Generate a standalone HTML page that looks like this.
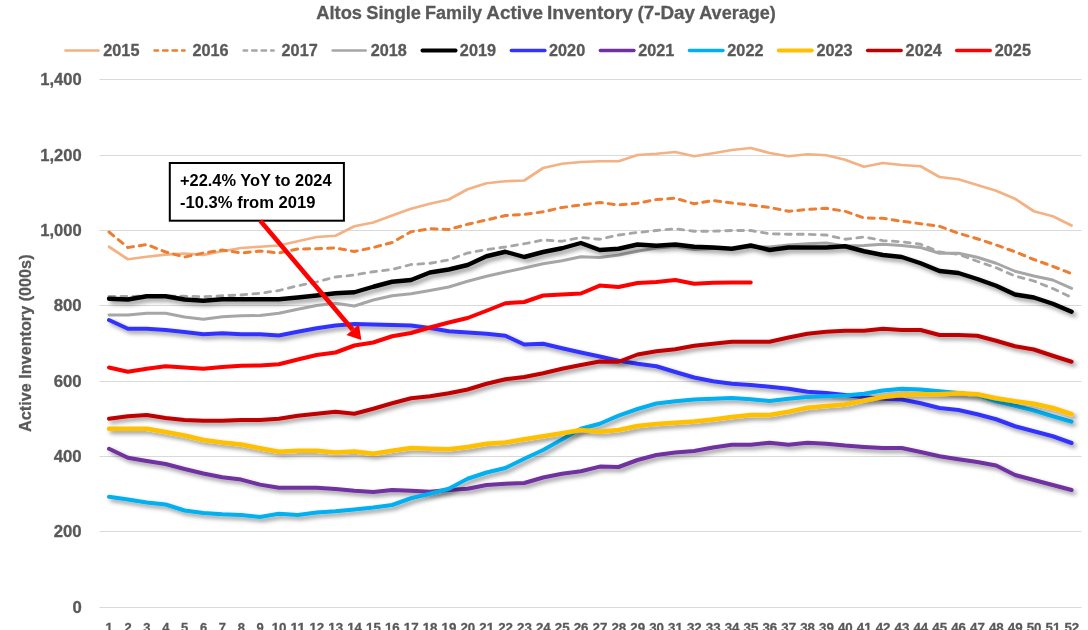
<!DOCTYPE html>
<html><head><meta charset="utf-8"><title>Altos Single Family Active Inventory</title>
<style>html,body{margin:0;padding:0;background:#fff}body{width:1088px;height:630px;overflow:hidden}</style></head>
<body>
<svg width="1088" height="630" viewBox="0 0 1088 630" style="display:block" font-family="'Liberation Sans', Arial, sans-serif" font-weight="bold">
<defs><filter id="sh" x="-5%" y="-30%" width="110%" height="160%"><feDropShadow dx="2.8" dy="2.8" stdDeviation="1.9" flood-color="#000" flood-opacity="0.42"/></filter><filter id="sh2" x="-5%" y="-30%" width="110%" height="180%"><feDropShadow dx="3" dy="3.2" stdDeviation="2.3" flood-color="#000" flood-opacity="0.4"/></filter></defs>
<rect width="1088" height="630" fill="#fff"/>
<g stroke="#595959" stroke-width="0.3" stroke-linejoin="round">
<rect x="99.5" y="79" width="982.0" height="1" fill="#D9D9D9" stroke="none"/>
<rect x="99.5" y="155" width="982.0" height="1" fill="#D9D9D9" stroke="none"/>
<rect x="99.5" y="230" width="982.0" height="1" fill="#D9D9D9" stroke="none"/>
<rect x="99.5" y="305" width="982.0" height="1" fill="#D9D9D9" stroke="none"/>
<rect x="99.5" y="381" width="982.0" height="1" fill="#D9D9D9" stroke="none"/>
<rect x="99.5" y="456" width="982.0" height="1" fill="#D9D9D9" stroke="none"/>
<rect x="99.5" y="531" width="982.0" height="1" fill="#D9D9D9" stroke="none"/>
<rect x="99.5" y="607" width="982.0" height="1" fill="#D9D9D9" stroke="none"/>
<text x="81.7" y="85.4" text-anchor="end" font-size="16.4" fill="#595959" textLength="41.5" lengthAdjust="spacingAndGlyphs">1,400</text>
<text x="81.7" y="161.4" text-anchor="end" font-size="16.4" fill="#595959" textLength="41.5" lengthAdjust="spacingAndGlyphs">1,200</text>
<text x="81.7" y="236.4" text-anchor="end" font-size="16.4" fill="#595959" textLength="41.5" lengthAdjust="spacingAndGlyphs">1,000</text>
<text x="81.7" y="311.4" text-anchor="end" font-size="16.4" fill="#595959" textLength="28" lengthAdjust="spacingAndGlyphs">800</text>
<text x="81.7" y="387.4" text-anchor="end" font-size="16.4" fill="#595959" textLength="28" lengthAdjust="spacingAndGlyphs">600</text>
<text x="81.7" y="462.4" text-anchor="end" font-size="16.4" fill="#595959" textLength="28" lengthAdjust="spacingAndGlyphs">400</text>
<text x="81.7" y="537.4" text-anchor="end" font-size="16.4" fill="#595959" textLength="28" lengthAdjust="spacingAndGlyphs">200</text>
<text x="81.7" y="613.4" text-anchor="end" font-size="16.4" fill="#595959" textLength="9.3" lengthAdjust="spacingAndGlyphs">0</text>
<text x="109.20" y="631.5" text-anchor="middle" font-size="13.4" fill="#595959" textLength="7.2" lengthAdjust="spacingAndGlyphs">1</text>
<text x="128.07" y="631.5" text-anchor="middle" font-size="13.4" fill="#595959" textLength="7.2" lengthAdjust="spacingAndGlyphs">2</text>
<text x="146.95" y="631.5" text-anchor="middle" font-size="13.4" fill="#595959" textLength="7.2" lengthAdjust="spacingAndGlyphs">3</text>
<text x="165.82" y="631.5" text-anchor="middle" font-size="13.4" fill="#595959" textLength="7.2" lengthAdjust="spacingAndGlyphs">4</text>
<text x="184.70" y="631.5" text-anchor="middle" font-size="13.4" fill="#595959" textLength="7.2" lengthAdjust="spacingAndGlyphs">5</text>
<text x="203.57" y="631.5" text-anchor="middle" font-size="13.4" fill="#595959" textLength="7.2" lengthAdjust="spacingAndGlyphs">6</text>
<text x="222.45" y="631.5" text-anchor="middle" font-size="13.4" fill="#595959" textLength="7.2" lengthAdjust="spacingAndGlyphs">7</text>
<text x="241.32" y="631.5" text-anchor="middle" font-size="13.4" fill="#595959" textLength="7.2" lengthAdjust="spacingAndGlyphs">8</text>
<text x="260.20" y="631.5" text-anchor="middle" font-size="13.4" fill="#595959" textLength="7.2" lengthAdjust="spacingAndGlyphs">9</text>
<text x="279.07" y="631.5" text-anchor="middle" font-size="13.4" fill="#595959" textLength="14.8" lengthAdjust="spacingAndGlyphs">10</text>
<text x="297.95" y="631.5" text-anchor="middle" font-size="13.4" fill="#595959" textLength="14.8" lengthAdjust="spacingAndGlyphs">11</text>
<text x="316.82" y="631.5" text-anchor="middle" font-size="13.4" fill="#595959" textLength="14.8" lengthAdjust="spacingAndGlyphs">12</text>
<text x="335.70" y="631.5" text-anchor="middle" font-size="13.4" fill="#595959" textLength="14.8" lengthAdjust="spacingAndGlyphs">13</text>
<text x="354.57" y="631.5" text-anchor="middle" font-size="13.4" fill="#595959" textLength="14.8" lengthAdjust="spacingAndGlyphs">14</text>
<text x="373.45" y="631.5" text-anchor="middle" font-size="13.4" fill="#595959" textLength="14.8" lengthAdjust="spacingAndGlyphs">15</text>
<text x="392.32" y="631.5" text-anchor="middle" font-size="13.4" fill="#595959" textLength="14.8" lengthAdjust="spacingAndGlyphs">16</text>
<text x="411.20" y="631.5" text-anchor="middle" font-size="13.4" fill="#595959" textLength="14.8" lengthAdjust="spacingAndGlyphs">17</text>
<text x="430.07" y="631.5" text-anchor="middle" font-size="13.4" fill="#595959" textLength="14.8" lengthAdjust="spacingAndGlyphs">18</text>
<text x="448.95" y="631.5" text-anchor="middle" font-size="13.4" fill="#595959" textLength="14.8" lengthAdjust="spacingAndGlyphs">19</text>
<text x="467.82" y="631.5" text-anchor="middle" font-size="13.4" fill="#595959" textLength="14.8" lengthAdjust="spacingAndGlyphs">20</text>
<text x="486.70" y="631.5" text-anchor="middle" font-size="13.4" fill="#595959" textLength="14.8" lengthAdjust="spacingAndGlyphs">21</text>
<text x="505.57" y="631.5" text-anchor="middle" font-size="13.4" fill="#595959" textLength="14.8" lengthAdjust="spacingAndGlyphs">22</text>
<text x="524.45" y="631.5" text-anchor="middle" font-size="13.4" fill="#595959" textLength="14.8" lengthAdjust="spacingAndGlyphs">23</text>
<text x="543.33" y="631.5" text-anchor="middle" font-size="13.4" fill="#595959" textLength="14.8" lengthAdjust="spacingAndGlyphs">24</text>
<text x="562.20" y="631.5" text-anchor="middle" font-size="13.4" fill="#595959" textLength="14.8" lengthAdjust="spacingAndGlyphs">25</text>
<text x="581.08" y="631.5" text-anchor="middle" font-size="13.4" fill="#595959" textLength="14.8" lengthAdjust="spacingAndGlyphs">26</text>
<text x="599.95" y="631.5" text-anchor="middle" font-size="13.4" fill="#595959" textLength="14.8" lengthAdjust="spacingAndGlyphs">27</text>
<text x="618.83" y="631.5" text-anchor="middle" font-size="13.4" fill="#595959" textLength="14.8" lengthAdjust="spacingAndGlyphs">28</text>
<text x="637.70" y="631.5" text-anchor="middle" font-size="13.4" fill="#595959" textLength="14.8" lengthAdjust="spacingAndGlyphs">29</text>
<text x="656.58" y="631.5" text-anchor="middle" font-size="13.4" fill="#595959" textLength="14.8" lengthAdjust="spacingAndGlyphs">30</text>
<text x="675.45" y="631.5" text-anchor="middle" font-size="13.4" fill="#595959" textLength="14.8" lengthAdjust="spacingAndGlyphs">31</text>
<text x="694.33" y="631.5" text-anchor="middle" font-size="13.4" fill="#595959" textLength="14.8" lengthAdjust="spacingAndGlyphs">32</text>
<text x="713.20" y="631.5" text-anchor="middle" font-size="13.4" fill="#595959" textLength="14.8" lengthAdjust="spacingAndGlyphs">33</text>
<text x="732.08" y="631.5" text-anchor="middle" font-size="13.4" fill="#595959" textLength="14.8" lengthAdjust="spacingAndGlyphs">34</text>
<text x="750.95" y="631.5" text-anchor="middle" font-size="13.4" fill="#595959" textLength="14.8" lengthAdjust="spacingAndGlyphs">35</text>
<text x="769.83" y="631.5" text-anchor="middle" font-size="13.4" fill="#595959" textLength="14.8" lengthAdjust="spacingAndGlyphs">36</text>
<text x="788.70" y="631.5" text-anchor="middle" font-size="13.4" fill="#595959" textLength="14.8" lengthAdjust="spacingAndGlyphs">37</text>
<text x="807.58" y="631.5" text-anchor="middle" font-size="13.4" fill="#595959" textLength="14.8" lengthAdjust="spacingAndGlyphs">38</text>
<text x="826.45" y="631.5" text-anchor="middle" font-size="13.4" fill="#595959" textLength="14.8" lengthAdjust="spacingAndGlyphs">39</text>
<text x="845.33" y="631.5" text-anchor="middle" font-size="13.4" fill="#595959" textLength="14.8" lengthAdjust="spacingAndGlyphs">40</text>
<text x="864.20" y="631.5" text-anchor="middle" font-size="13.4" fill="#595959" textLength="14.8" lengthAdjust="spacingAndGlyphs">41</text>
<text x="883.08" y="631.5" text-anchor="middle" font-size="13.4" fill="#595959" textLength="14.8" lengthAdjust="spacingAndGlyphs">42</text>
<text x="901.95" y="631.5" text-anchor="middle" font-size="13.4" fill="#595959" textLength="14.8" lengthAdjust="spacingAndGlyphs">43</text>
<text x="920.83" y="631.5" text-anchor="middle" font-size="13.4" fill="#595959" textLength="14.8" lengthAdjust="spacingAndGlyphs">44</text>
<text x="939.70" y="631.5" text-anchor="middle" font-size="13.4" fill="#595959" textLength="14.8" lengthAdjust="spacingAndGlyphs">45</text>
<text x="958.58" y="631.5" text-anchor="middle" font-size="13.4" fill="#595959" textLength="14.8" lengthAdjust="spacingAndGlyphs">46</text>
<text x="977.45" y="631.5" text-anchor="middle" font-size="13.4" fill="#595959" textLength="14.8" lengthAdjust="spacingAndGlyphs">47</text>
<text x="996.33" y="631.5" text-anchor="middle" font-size="13.4" fill="#595959" textLength="14.8" lengthAdjust="spacingAndGlyphs">48</text>
<text x="1015.20" y="631.5" text-anchor="middle" font-size="13.4" fill="#595959" textLength="14.8" lengthAdjust="spacingAndGlyphs">49</text>
<text x="1034.08" y="631.5" text-anchor="middle" font-size="13.4" fill="#595959" textLength="14.8" lengthAdjust="spacingAndGlyphs">50</text>
<text x="1052.95" y="631.5" text-anchor="middle" font-size="13.4" fill="#595959" textLength="14.8" lengthAdjust="spacingAndGlyphs">51</text>
<text x="1071.83" y="631.5" text-anchor="middle" font-size="13.4" fill="#595959" textLength="14.8" lengthAdjust="spacingAndGlyphs">52</text>
<text transform="translate(31.1,343.2) rotate(-90)" text-anchor="middle" font-size="16.4" fill="#595959" textLength="177.5" lengthAdjust="spacingAndGlyphs">Active Inventory (000s)</text>
<text y="18.75" font-size="18.8" fill="#595959">
<tspan x="316.25" textLength="45.75" lengthAdjust="spacingAndGlyphs">Altos</tspan>
<tspan x="366.25" textLength="54.75" lengthAdjust="spacingAndGlyphs">Single</tspan>
<tspan x="425" textLength="57" lengthAdjust="spacingAndGlyphs">Family</tspan>
<tspan x="486.25" textLength="56.75" lengthAdjust="spacingAndGlyphs">Active</tspan>
<tspan x="547" textLength="86" lengthAdjust="spacingAndGlyphs">Inventory</tspan>
<tspan x="637.5" textLength="57.5" lengthAdjust="spacingAndGlyphs">(7-Day</tspan>
<tspan x="699.25" textLength="76.5" lengthAdjust="spacingAndGlyphs">Average)</tspan>
</text>
<path d="M65.45 50.5H98.55" stroke="#F4B183" stroke-width="2.4" stroke-linecap="round" fill="none"/>
<text x="103.25" y="55.9" font-size="16.4" fill="#595959" textLength="36.2" lengthAdjust="spacingAndGlyphs">2015</text>
<path d="M154.62 50.5h3.4M163.12 50.5h4.4M172.62 50.5h4.4M182.12 50.5h2.4" stroke="#ED7D31" stroke-width="2.6" stroke-linecap="round" fill="none"/>
<text x="192.40" y="55.9" font-size="16.4" fill="#595959" textLength="36.2" lengthAdjust="spacingAndGlyphs">2016</text>
<path d="M243.69 50.5h3.4M252.19 50.5h4.4M261.69 50.5h4.4M271.19 50.5h2.4" stroke="#A6A6A6" stroke-width="2.6" stroke-linecap="round" fill="none"/>
<text x="281.55" y="55.9" font-size="16.4" fill="#595959" textLength="36.2" lengthAdjust="spacingAndGlyphs">2017</text>
<path d="M332.66 50.5H365.76" stroke="#A6A6A6" stroke-width="2.4" stroke-linecap="round" fill="none"/>
<text x="370.70" y="55.9" font-size="16.4" fill="#595959" textLength="36.2" lengthAdjust="spacingAndGlyphs">2018</text>
<path d="M422.43 50.5H455.63" stroke="#000000" stroke-width="3.8" stroke-linecap="round" fill="none"/>
<text x="459.85" y="55.9" font-size="16.4" fill="#595959" textLength="36.2" lengthAdjust="spacingAndGlyphs">2019</text>
<path d="M511.25 50.5H544.95" stroke="#3333FF" stroke-width="3.3" stroke-linecap="round" fill="none"/>
<text x="549.00" y="55.9" font-size="16.4" fill="#595959" textLength="36.2" lengthAdjust="spacingAndGlyphs">2020</text>
<path d="M600.32 50.5H634.02" stroke="#7030A0" stroke-width="3.3" stroke-linecap="round" fill="none"/>
<text x="638.15" y="55.9" font-size="16.4" fill="#595959" textLength="36.2" lengthAdjust="spacingAndGlyphs">2021</text>
<path d="M689.39 50.5H723.09" stroke="#00B0F0" stroke-width="3.3" stroke-linecap="round" fill="none"/>
<text x="727.30" y="55.9" font-size="16.4" fill="#595959" textLength="36.2" lengthAdjust="spacingAndGlyphs">2022</text>
<path d="M778.71 50.5H811.91" stroke="#FFC000" stroke-width="3.8" stroke-linecap="round" fill="none"/>
<text x="816.45" y="55.9" font-size="16.4" fill="#595959" textLength="36.2" lengthAdjust="spacingAndGlyphs">2023</text>
<path d="M867.53 50.5H901.23" stroke="#C00000" stroke-width="3.3" stroke-linecap="round" fill="none"/>
<text x="905.60" y="55.9" font-size="16.4" fill="#595959" textLength="36.2" lengthAdjust="spacingAndGlyphs">2024</text>
<path d="M956.60 50.5H990.30" stroke="#FF0000" stroke-width="3.3" stroke-linecap="round" fill="none"/>
<text x="994.75" y="55.9" font-size="16.4" fill="#595959" textLength="36.2" lengthAdjust="spacingAndGlyphs">2025</text>
</g>
<polyline points="109.00,246.75 127.88,259.25 146.75,256.75 165.62,254.60 184.50,253.50 203.38,254.80 222.25,251.25 241.12,248.00 260.00,246.75 278.88,245.50 297.75,241.25 316.62,237.00 335.50,235.75 354.38,226.25 373.25,222.50 392.12,215.50 411.00,208.75 429.88,203.75 448.75,199.50 467.62,189.25 486.50,183.25 505.38,181.25 524.25,180.50 543.12,168.00 562.00,163.75 580.88,162.00 599.75,161.25 618.62,161.25 637.50,155.00 656.38,153.75 675.25,152.00 694.12,156.25 713.00,153.25 731.88,150.00 750.75,148.00 769.62,153.00 788.50,156.25 807.38,154.25 826.25,155.25 845.12,159.75 864.00,166.75 882.88,163.00 901.75,165.00 920.62,166.25 939.50,177.00 958.38,179.25 977.25,185.00 996.12,190.75 1015.00,198.75 1033.88,211.25 1052.75,216.25 1071.62,225.50" fill="none" stroke="#F4B183" stroke-width="2.7" stroke-linejoin="round" stroke-linecap="round"/>
<polyline points="109.00,232.00 127.88,247.50 146.75,244.50 165.62,252.00 184.50,257.00 203.38,253.00 222.25,250.00 241.12,253.00 260.00,251.00 278.88,253.00 297.75,249.00 316.62,248.70 335.50,248.00 354.38,251.50 373.25,247.50 392.12,242.50 411.00,231.75 429.88,228.75 448.75,229.50 467.62,224.25 486.50,220.00 505.38,215.50 524.25,214.50 543.12,211.75 562.00,207.50 580.88,205.00 599.75,202.50 618.62,205.00 637.50,203.25 656.38,199.50 675.25,198.25 694.12,203.75 713.00,200.50 731.88,203.00 750.75,205.00 769.62,207.50 788.50,211.25 807.38,209.50 826.25,208.25 845.12,211.25 864.00,218.00 882.88,218.25 901.75,221.25 920.62,223.75 939.50,226.25 958.38,233.25 977.25,238.75 996.12,245.00 1015.00,251.75 1033.88,259.50 1052.75,266.25 1071.62,273.75" fill="none" stroke="#ED7D31" stroke-width="3.0" stroke-linejoin="round" stroke-dasharray="6 6" stroke-linecap="round"/>
<polyline points="109.00,296.50 127.88,296.50 146.75,296.00 165.62,296.00 184.50,296.25 203.38,296.75 222.25,295.75 241.12,295.00 260.00,293.25 278.88,290.50 297.75,285.75 316.62,282.00 335.50,277.00 354.38,275.00 373.25,271.75 392.12,269.50 411.00,264.50 429.88,263.25 448.75,260.00 467.62,253.00 486.50,249.50 505.38,247.00 524.25,243.75 543.12,240.00 562.00,241.25 580.88,237.50 599.75,239.25 618.62,235.00 637.50,232.50 656.38,230.50 675.25,228.75 694.12,231.25 713.00,231.25 731.88,230.50 750.75,230.50 769.62,233.75 788.50,234.25 807.38,234.25 826.25,235.00 845.12,239.25 864.00,237.00 882.88,240.60 901.75,241.75 920.62,244.25 939.50,252.00 958.38,254.25 977.25,261.25 996.12,267.75 1015.00,276.00 1033.88,281.00 1052.75,288.50 1071.62,297.50" fill="none" stroke="#A6A6A6" stroke-width="2.8" stroke-linejoin="round" stroke-dasharray="5.8 6.2" stroke-linecap="round"/>
<polyline points="109.00,315.00 127.88,315.00 146.75,313.25 165.62,313.25 184.50,317.00 203.38,319.25 222.25,316.75 241.12,315.75 260.00,315.50 278.88,313.25 297.75,309.25 316.62,305.50 335.50,303.25 354.38,306.00 373.25,300.00 392.12,295.75 411.00,293.75 429.88,290.50 448.75,287.00 467.62,281.25 486.50,276.25 505.38,272.00 524.25,268.00 543.12,263.75 562.00,260.75 580.88,256.75 599.75,257.50 618.62,255.00 637.50,251.25 656.38,248.00 675.25,246.50 694.12,249.50 713.00,248.50 731.88,248.50 750.75,247.00 769.62,247.00 788.50,245.00 807.38,243.75 826.25,243.00 845.12,246.00 864.00,245.50 882.88,244.25 901.75,245.50 920.62,247.50 939.50,253.25 958.38,253.25 977.25,257.25 996.12,263.25 1015.00,271.25 1033.88,276.00 1052.75,280.00 1071.62,288.30" fill="none" stroke="#A6A6A6" stroke-width="2.9" stroke-linejoin="round" stroke-linecap="round"/>
<polyline points="109.00,298.75 127.88,299.50 146.75,296.25 165.62,296.25 184.50,299.50 203.38,300.75 222.25,299.25 241.12,299.25 260.00,299.25 278.88,299.25 297.75,297.50 316.62,295.50 335.50,293.25 354.38,292.25 373.25,286.75 392.12,281.75 411.00,280.00 429.88,272.50 448.75,269.50 467.62,265.00 486.50,256.25 505.38,251.75 524.25,257.00 543.12,252.00 562.00,248.25 580.88,243.00 599.75,250.00 618.62,248.75 637.50,244.50 656.38,245.75 675.25,244.50 694.12,246.75 713.00,247.50 731.88,248.75 750.75,245.50 769.62,250.00 788.50,247.50 807.38,247.50 826.25,247.50 845.12,246.25 864.00,251.25 882.88,255.00 901.75,257.00 920.62,263.25 939.50,271.00 958.38,273.00 977.25,279.00 996.12,285.75 1015.00,294.50 1033.88,297.50 1052.75,303.75 1071.62,311.75" fill="none" stroke="#000000" stroke-width="4.4" stroke-linejoin="round" stroke-linecap="round" filter="url(#sh2)"/>
<polyline points="109.00,320.00 127.88,328.75 146.75,328.75 165.62,330.00 184.50,332.00 203.38,334.25 222.25,333.25 241.12,334.25 260.00,334.25 278.88,335.50 297.75,331.75 316.62,328.25 335.50,325.50 354.38,324.00 373.25,324.50 392.12,325.00 411.00,325.50 429.88,328.00 448.75,331.25 467.62,332.50 486.50,333.75 505.38,335.75 524.25,344.50 543.12,343.75 562.00,348.25 580.88,352.50 599.75,356.50 618.62,360.75 637.50,363.75 656.38,366.25 675.25,372.00 694.12,377.50 713.00,381.25 731.88,383.75 750.75,385.00 769.62,386.75 788.50,388.75 807.38,391.75 826.25,393.00 845.12,395.00 864.00,397.25 882.88,398.75 901.75,399.50 920.62,403.25 939.50,408.00 958.38,410.00 977.25,414.25 996.12,419.25 1015.00,426.25 1033.88,431.25 1052.75,436.25 1071.62,443.00" fill="none" stroke="#3333FF" stroke-width="4" stroke-linejoin="round" stroke-linecap="round" filter="url(#sh)"/>
<polyline points="109.00,448.75 127.88,457.75 146.75,461.00 165.62,464.00 184.50,469.00 203.38,473.50 222.25,477.25 241.12,479.60 260.00,484.60 278.88,487.75 297.75,487.75 316.62,487.75 335.50,489.00 354.38,490.75 373.25,492.00 392.12,490.00 411.00,490.75 429.88,491.75 448.75,490.00 467.62,488.75 486.50,485.00 505.38,483.75 524.25,483.00 543.12,477.50 562.00,473.75 580.88,471.25 599.75,466.60 618.62,467.00 637.50,460.00 656.38,455.00 675.25,452.60 694.12,451.00 713.00,447.50 731.88,444.75 750.75,444.75 769.62,442.75 788.50,444.75 807.38,442.75 826.25,443.75 845.12,445.60 864.00,447.00 882.88,448.00 901.75,448.00 920.62,452.00 939.50,456.25 958.38,459.25 977.25,462.00 996.12,465.50 1015.00,475.00 1033.88,480.00 1052.75,485.00 1071.62,490.00" fill="none" stroke="#7030A0" stroke-width="4" stroke-linejoin="round" stroke-linecap="round" filter="url(#sh)"/>
<polyline points="109.00,496.75 127.88,499.50 146.75,502.50 165.62,504.50 184.50,510.50 203.38,513.00 222.25,514.25 241.12,515.00 260.00,517.00 278.88,513.75 297.75,515.00 316.62,512.50 335.50,511.25 354.38,509.50 373.25,507.50 392.12,505.00 411.00,498.25 429.88,493.75 448.75,488.75 467.62,478.75 486.50,472.50 505.38,468.00 524.25,458.75 543.12,450.00 562.00,439.50 580.88,428.75 599.75,423.75 618.62,415.60 637.50,409.00 656.38,403.50 675.25,401.25 694.12,399.50 713.00,398.75 731.88,398.00 750.75,399.25 769.62,401.00 788.50,398.75 807.38,397.00 826.25,396.25 845.12,395.60 864.00,393.75 882.88,390.50 901.75,388.75 920.62,389.50 939.50,391.25 958.38,393.00 977.25,395.00 996.12,401.25 1015.00,405.75 1033.88,410.50 1052.75,416.25 1071.62,421.75" fill="none" stroke="#00B0F0" stroke-width="4" stroke-linejoin="round" stroke-linecap="round" filter="url(#sh)"/>
<polyline points="109.00,428.75 127.88,428.75 146.75,428.75 165.62,432.00 184.50,435.50 203.38,440.00 222.25,442.50 241.12,444.50 260.00,448.25 278.88,451.75 297.75,450.75 316.62,450.75 335.50,452.50 354.38,451.50 373.25,453.75 392.12,450.75 411.00,448.00 429.88,448.75 448.75,449.25 467.62,447.00 486.50,443.75 505.38,442.50 524.25,439.25 543.12,436.25 562.00,433.25 580.88,430.00 599.75,431.75 618.62,430.00 637.50,426.00 656.38,424.00 675.25,422.75 694.12,421.50 713.00,419.40 731.88,416.90 750.75,415.00 769.62,415.00 788.50,411.75 807.38,407.75 826.25,406.00 845.12,404.50 864.00,400.50 882.88,397.00 901.75,395.00 920.62,394.25 939.50,394.25 958.38,393.25 977.25,394.25 996.12,398.25 1015.00,401.25 1033.88,403.75 1052.75,408.00 1071.62,414.25" fill="none" stroke="#FFC000" stroke-width="4.5" stroke-linejoin="round" stroke-linecap="round" filter="url(#sh)"/>
<polyline points="109.00,418.75 127.88,416.25 146.75,415.00 165.62,418.00 184.50,420.00 203.38,420.75 222.25,420.75 241.12,420.00 260.00,420.00 278.88,418.75 297.75,415.75 316.62,413.75 335.50,411.75 354.38,413.75 373.25,408.75 392.12,403.25 411.00,398.25 429.88,396.25 448.75,393.25 467.62,389.50 486.50,383.75 505.38,379.25 524.25,377.00 543.12,373.25 562.00,368.75 580.88,365.00 599.75,361.50 618.62,361.75 637.50,354.50 656.38,351.25 675.25,349.25 694.12,345.75 713.00,343.75 731.88,341.75 750.75,341.75 769.62,341.75 788.50,337.50 807.38,333.75 826.25,331.75 845.12,330.75 864.00,330.75 882.88,328.75 901.75,330.00 920.62,330.00 939.50,335.00 958.38,335.00 977.25,335.75 996.12,340.75 1015.00,346.25 1033.88,349.50 1052.75,355.75 1071.62,361.75" fill="none" stroke="#C00000" stroke-width="4" stroke-linejoin="round" stroke-linecap="round" filter="url(#sh)"/>
<polyline points="109.00,367.50 127.88,371.75 146.75,368.75 165.62,366.25 184.50,367.50 203.38,368.75 222.25,367.00 241.12,365.75 260.00,365.50 278.88,364.25 297.75,359.50 316.62,355.00 335.50,352.50 354.38,345.50 373.25,342.50 392.12,336.25 411.00,333.00 429.88,327.50 448.75,322.50 467.62,318.00 486.50,310.75 505.38,303.25 524.25,302.00 543.12,295.50 562.00,294.50 580.88,293.50 599.75,285.60 618.62,287.00 637.50,283.00 656.38,282.00 675.25,280.00 694.12,283.75 713.00,282.75 731.88,282.50 750.75,282.50" fill="none" stroke="#FF0000" stroke-width="4" stroke-linejoin="round" stroke-linecap="round"/>
<rect x="169.8" y="163" width="174.1" height="57.7" fill="#fff" stroke="#000" stroke-width="2"/>
<text x="180" y="186.2" font-size="16.4" fill="#000" textLength="151.5" lengthAdjust="spacingAndGlyphs">+22.4% YoY to 2024</text>
<text x="180" y="208.4" font-size="16.4" fill="#000" textLength="135.5" lengthAdjust="spacingAndGlyphs">-10.3% from 2019</text>
<line x1="260.3" y1="220.8" x2="352.67" y2="329.70" stroke="#FF0000" stroke-width="4.6"/>
<polygon points="361.4,340.0 346.41,335.01 358.92,324.40" fill="#FF0000"/>
</svg>
</body></html>
